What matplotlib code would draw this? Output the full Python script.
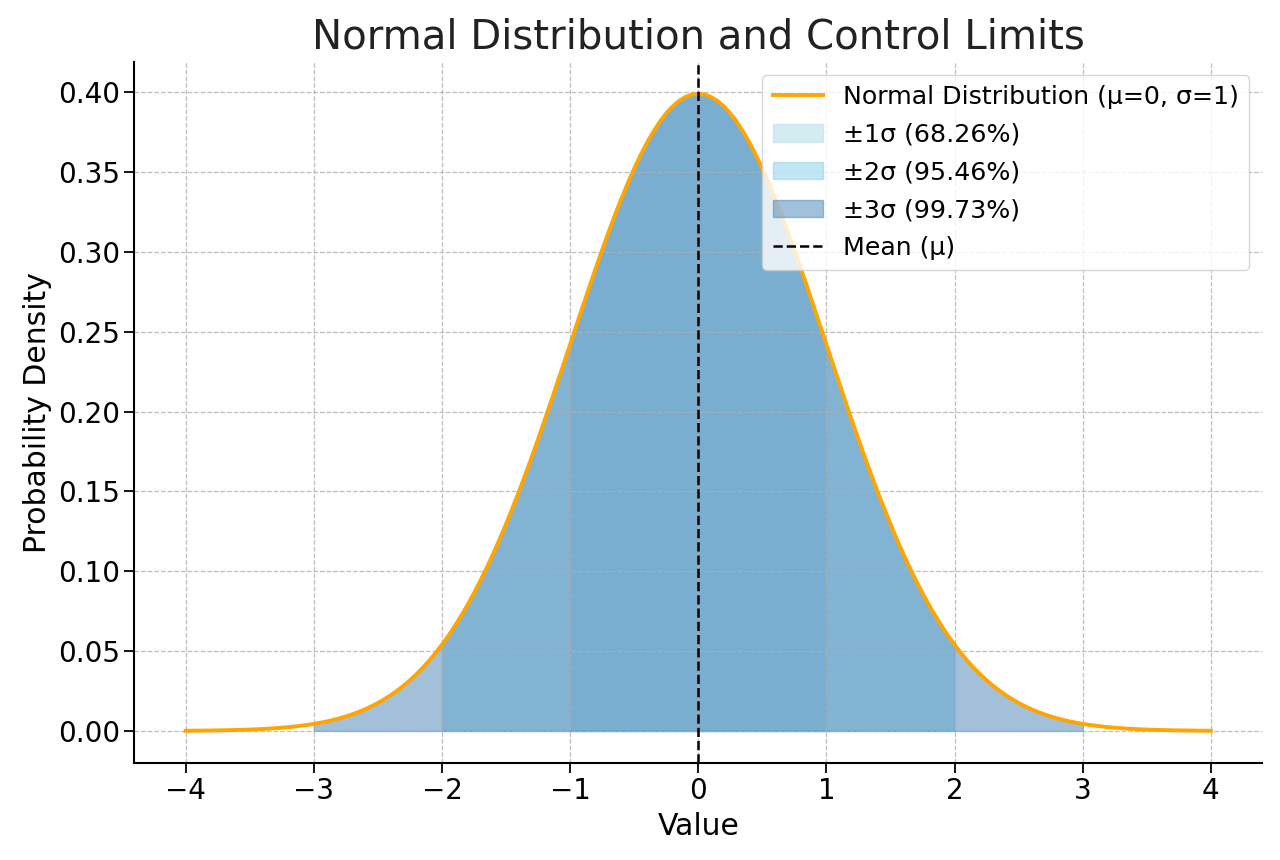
import numpy as np
import matplotlib.pyplot as plt

# Density values, x from 0 to 4 in steps of 0.05 (curve is symmetric)
x_right = np.round(np.arange(0, 81) * 0.05, 2)
density_right = [0.39894, 0.39844, 0.39695, 0.39448, 0.39104, 0.38667, 0.38139, 0.37524,
                 0.36827, 0.36053, 0.35207, 0.34294, 0.33322, 0.32297, 0.31225, 0.30114,
                 0.28969, 0.27798, 0.26609, 0.25406, 0.24197, 0.22989, 0.21785, 0.20594,
                 0.19419, 0.18265, 0.17137, 0.16038, 0.14973, 0.13943, 0.12952, 0.12001,
                 0.11092, 0.10226, 0.09405, 0.08628, 0.07895, 0.07206, 0.06562, 0.05959,
                 0.05399, 0.04879, 0.04398, 0.03954, 0.03547, 0.03174, 0.02833, 0.02522,
                 0.02239, 0.01984, 0.01753, 0.01545, 0.01358, 0.01191, 0.01042, 0.00909,
                 0.00792, 0.00687, 0.00595, 0.00514, 0.00443, 0.00381, 0.00327, 0.00279,
                 0.00238, 0.00203, 0.00172, 0.00146, 0.00123, 0.00104, 0.00087, 0.00073,
                 0.00061, 0.00051, 0.00042, 0.00035, 0.00029, 0.00024, 0.00020, 0.00016,
                 0.00013]
x_values = np.concatenate([-x_right[:0:-1], x_right])
density = np.array(density_right[:0:-1] + density_right)

mu = 0
sigma = 1
band_widths = [1, 2, 3]
band_labels = ['±1σ (68.26%)', '±2σ (95.46%)', '±3σ (99.73%)']
band_colors = ['lightblue', 'skyblue', 'steelblue']

fig, ax = plt.subplots(figsize=(12.8, 8.6), dpi=100)
fig.subplots_adjust(left=0.105, right=0.986, bottom=0.113, top=0.928)

ax.plot(x_values, density, color='orange', lw=2.8,
        label='Normal Distribution (μ=0, σ=1)')

for k, lab, col in zip(band_widths, band_labels, band_colors):
    mask = (x_values >= mu - k * sigma - 1e-9) & (x_values <= mu + k * sigma + 1e-9)
    ax.fill_between(x_values[mask], density[mask], color=col, alpha=0.5, label=lab)

ax.axvline(mu, color='black', ls='--', lw=1.8, label='Mean (μ)')

ax.set_title('Normal Distribution and Control Limits', fontsize=29, color='#222222', pad=10)
ax.set_xlabel('Value', fontsize=21.5, labelpad=5)
ax.set_ylabel('Probability Density', fontsize=21.5)
ax.set_yticks(np.arange(0, 0.41, 0.05))
ax.tick_params(labelsize=20, length=7, width=1.3)
ax.grid(True, ls='--', color='#b0b0b0', lw=0.9, alpha=0.8)
for s in ['top', 'right']:
    ax.spines[s].set_visible(False)
for s in ['left', 'bottom']:
    ax.spines[s].set_linewidth(1.5)

ax.legend(loc='upper right', fontsize=18.2, framealpha=0.8, labelspacing=0.55)

plt.savefig('out.png')
